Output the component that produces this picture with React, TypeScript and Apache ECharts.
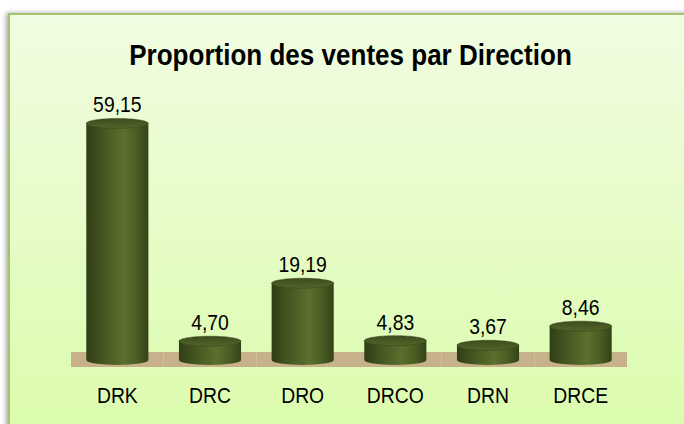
import React, { useEffect, useRef } from "react";
import * as echarts from "echarts";

const categories = ["DRK", "DRC", "DRO", "DRCO", "DRN", "DRCE"];
const values = [59.15, 4.7, 19.19, 4.83, 3.67, 8.46];
const titleText = "Proportion des ventes par Direction";

const FONT = "'Liberation Sans', Arial, sans-serif";
const SQUEEZE = 0.88;

const fmt = (v: number) => v.toFixed(2).replace(".", ",");

export default function App() {
  const ref = useRef<HTMLDivElement>(null);

  useEffect(() => {
    const chart = echarts.init(ref.current!, null, { renderer: "svg" });

    const bodyFill = {
      type: "linear",
      x: 0,
      y: 0,
      x2: 1,
      y2: 0,
      colorStops: [
        { offset: 0, color: "#2f3d16" },
        { offset: 0.25, color: "#43551f" },
        { offset: 0.6, color: "#5b6f2e" },
        { offset: 0.8, color: "#4c5f24" },
        { offset: 1, color: "#334318" },
      ],
    };
    const topFill = {
      type: "linear",
      x: 0,
      y: 0,
      x2: 0,
      y2: 1,
      colorStops: [
        { offset: 0, color: "#3c4c1d" },
        { offset: 1, color: "#53662a" },
      ],
    };

    const renderItem = (params: any, api: any) => {
      const i = api.value(0);
      const v = api.value(1);
      const top = api.coord([i, v]);
      const base = api.coord([i, 0]);
      const band = api.size([1, 0])[0];
      const rx = band * 0.335;
      const ry = 5;
      const cx = base[0];
      const yb = base[1];
      const yt = top[1];
      return {
        type: "group",
        children: [
          {
            type: "rect",
            shape: { x: cx - band / 2, y: yb - 8, width: band, height: 15 },
            style: { fill: "#c6b18a" },
          },
          {
            type: "path",
            shape: {
              pathData: `M${cx - rx} ${yt} L${cx - rx} ${yb} A${rx} ${ry} 0 0 0 ${cx + rx} ${yb} L${cx + rx} ${yt} Z`,
            },
            style: { fill: bodyFill },
          },
          {
            type: "ellipse",
            shape: { cx, cy: yt, rx, ry },
            style: { fill: topFill, stroke: "#33421a", lineWidth: 0.5 },
          },
          {
            type: "text",
            x: cx,
            y: yt - ry - 3,
            scaleX: SQUEEZE,
            style: {
              text: fmt(v),
              fontSize: 22,
              fontFamily: FONT,
              fill: "#000000",
              align: "center",
              verticalAlign: "bottom",
            },
          },
          {
            type: "text",
            x: cx,
            y: yb + 24,
            scaleX: SQUEEZE,
            style: {
              text: categories[i],
              fontSize: 22,
              fontFamily: FONT,
              fill: "#000000",
              align: "center",
              verticalAlign: "top",
            },
          },
        ],
      };
    };

    chart.setOption({
      animation: false,
      backgroundColor: "#ffffff",
      graphic: [
        {
          type: "rect",
          z: -10,
          silent: true,
          shape: { x: 9, y: 14, width: 700, height: 440 },
          style: {
            fill: {
              type: "linear",
              x: 0,
              y: 0,
              x2: 0,
              y2: 1,
              colorStops: [
                { offset: 0, color: "#f1fce2" },
                { offset: 1, color: "#dafcaa" },
              ],
            },
            stroke: "#a2c46c",
            lineWidth: 2,
            shadowBlur: 5,
            shadowColor: "rgba(0,0,0,0.35)",
            shadowOffsetX: -2,
          },
        },
        {
          type: "text",
          z: 10,
          x: 350.5,
          y: 55,
          scaleX: 0.868,
          style: {
            text: titleText,
            fontSize: 30,
            fontWeight: "bold",
            fontFamily: FONT,
            fill: "#000000",
            align: "center",
            verticalAlign: "middle",
          },
        },
      ],
      grid: { left: 71, width: 556, top: 120, height: 240 },
      xAxis: {
        type: "category",
        data: categories,
        axisLine: { show: false },
        axisTick: { show: false },
        axisLabel: { show: false },
      },
      yAxis: { type: "value", min: 0, max: 60, show: false },
      series: [
        {
          type: "custom",
          data: values.map((v, i) => [i, v]),
          encode: { x: 0, y: 1 },
          renderItem,
          z: 2,
        },
      ],
    });

    return () => chart.dispose();
  }, []);

  return (
    <div
      style={{
        position: "fixed",
        left: 0,
        top: 0,
        width: 684,
        height: 424,
        background: "#ffffff",
      }}
    >
      <div ref={ref} style={{ width: 684, height: 424 }} />
    </div>
  );
}
